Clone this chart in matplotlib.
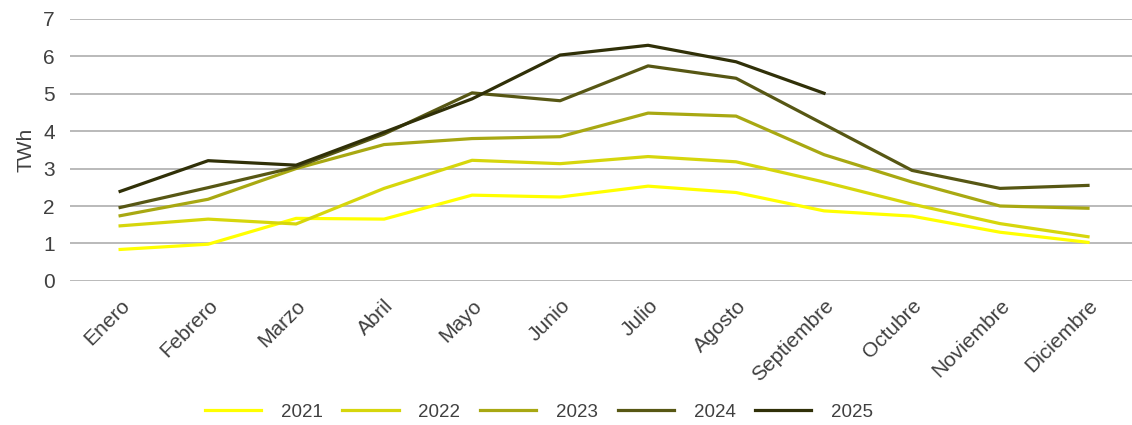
import matplotlib.pyplot as plt

plt.rcParams['font.family'] = ['Liberation Sans', 'DejaVu Sans']

meses = ['Enero', 'Febrero', 'Marzo', 'Abril', 'Mayo', 'Junio', 'Julio',
         'Agosto', 'Septiembre', 'Octubre', 'Noviembre', 'Diciembre']
anios = ['2021', '2022', '2023', '2024', '2025']

v2021 = [0.84, 0.98, 1.67, 1.65, 2.29, 2.24, 2.53, 2.36, 1.87, 1.73, 1.30, 1.03]
v2022 = [1.47, 1.65, 1.52, 2.47, 3.22, 3.13, 3.32, 3.18, 2.64, 2.05, 1.53, 1.18]
v2023 = [1.74, 2.18, 3.00, 3.64, 3.80, 3.85, 4.48, 4.40, 3.37, 2.64, 2.00, 1.94]
v2024 = [1.96, 2.49, 3.04, 3.92, 5.02, 4.81, 5.74, 5.41, 4.18, 2.95, 2.47, 2.55]
v2025 = [2.39, 3.21, 3.09, 3.97, 4.86, 6.03, 6.29, 5.85, 5.01]

colores = ['#ffff00', '#d6d60c', '#a8a812', '#575714', '#303008']

fig = plt.figure(figsize=(11.32, 4.25), dpi=100)
ax = fig.add_axes([0.0618, 0.339, 0.9382, 0.617])

series = [v2021, v2022, v2023, v2024, v2025]
for vals, anio, col in zip(series, anios, colores):
    ax.plot(range(len(vals)), vals, color=col, lw=2.3, label=anio)

ax.set_xlim(-0.57, 11.5)
ax.set_ylim(0, 7)
ax.set_yticks(range(8))
ax.set_xticks(range(12))
ax.set_xticklabels(meses, rotation=45, ha='right', rotation_mode='anchor')
ax.tick_params(axis='both', length=0, labelsize=15, colors='#404040')
ax.tick_params(axis='x', pad=11)
ax.tick_params(axis='y', pad=11)
ax.grid(axis='y', color='#b4b4b4', lw=1.3)
ax.set_axisbelow(True)
for s in ax.spines.values():
    s.set_visible(False)
ax.set_ylabel('TWh', fontsize=15, color='#404040', labelpad=5)

fig.legend(loc='center', bbox_to_anchor=(539 / 1132, 1 - 412 / 425), ncol=5,
           frameon=False, fontsize=13.5, handlelength=3.0, handletextpad=1.05,
           columnspacing=1.05, labelcolor='#404040')

fig.savefig('out.png', dpi=100)
